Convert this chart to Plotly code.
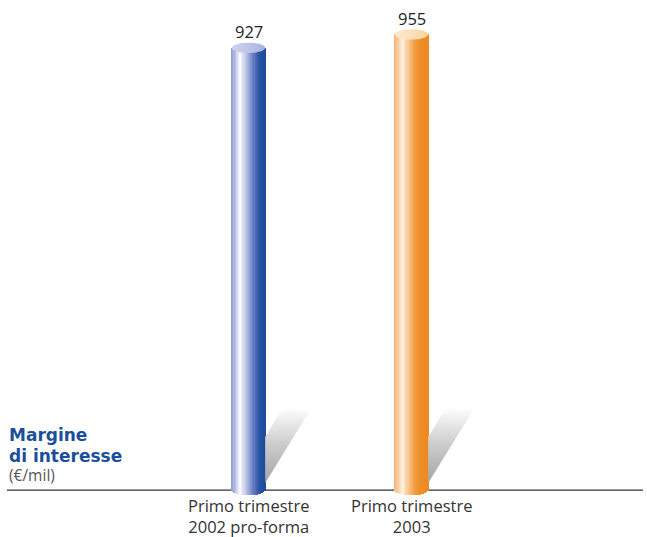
import numpy as np
import plotly.graph_objects as go

# ---- data ----
categories = ["Primo trimestre<br>2002 pro-forma", "Primo trimestre<br>2003"]
values = [927, 955]
value_labels = ["927", "955"]
positions = [0, 1]
title_lines = ["Margine", "di interesse"]
unit_label = "(€/mil)"

# ---- style ----
BAR_W = 0.205          # cylinder width in x units
CAP_H = 11             # half height of the elliptical ends (y units)
N_STRIPES = 30
X_RANGE = [-1.4816, 2.4202]
Y_RANGE = [-25, 1000]

body_stops = [
    [(0.00, "#8d97cf"), (0.10, "#b3bbe2"), (0.20, "#e4e8f6"), (0.27, "#ffffff"),
     (0.35, "#dde2f3"), (0.45, "#b6c0e4"), (0.55, "#93a2d6"), (0.64, "#6f84c6"),
     (0.73, "#4b68b5"), (0.83, "#2d56a6"), (1.00, "#1d4b9b")],
    [(0.00, "#f3b075"), (0.10, "#f8cd9c"), (0.20, "#fde6cb"), (0.27, "#fff5e8"),
     (0.35, "#fbd7aa"), (0.45, "#f8bf85"), (0.55, "#f5aa5c"), (0.64, "#f29a3f"),
     (0.73, "#ef8f2b"), (1.00, "#ec8920")],
]
cap_scales = [
    [[0, "#ccd2ee"], [0.45, "#bfc7e9"], [1, "#a7b2de"]],
    [[0, "#fee9d0"], [0.45, "#fde0bb"], [1, "#fbd1a0"]],
]


def hex_rgb(h):
    h = h.lstrip("#")
    return np.array([int(h[i:i + 2], 16) for i in (0, 2, 4)], dtype=float)


def color_at(stops, u):
    for (u0, c0), (u1, c1) in zip(stops[:-1], stops[1:]):
        if u0 <= u <= u1:
            t = (u - u0) / (u1 - u0) if u1 > u0 else 0
            c = hex_rgb(c0) * (1 - t) + hex_rgb(c1) * t
            return "rgb(%d,%d,%d)" % tuple(np.round(c))
    return stops[-1][1]


fig = go.Figure()

# shadows cast behind each cylinder (parallelogram fading upward)
for pos in positions:
    xr = pos + BAR_W / 2
    sx = [xr, xr + 0.276, xr + 0.110, xr, xr]
    sy = [14.7, 167.7, 174.0, 111.0, 14.7]
    fig.add_trace(go.Scatter(
        x=sx, y=sy, mode="lines", fill="toself", line=dict(width=0),
        fillgradient=dict(type="vertical", start=14.7, stop=174.0,
                          colorscale=[[0, "#a4a4a4"], [0.5, "#cbcbcb"], [1, "#ffffff"]]),
        hoverinfo="skip", showlegend=False))

# cylinder bodies: vertical stripes with a rounded bottom
sw = BAR_W / N_STRIPES
for k, (pos, val) in enumerate(zip(positions, values)):
    u = (np.arange(N_STRIPES) + 0.5) / N_STRIPES
    xs = pos - BAR_W / 2 + u * BAR_W
    bases = -CAP_H * np.sqrt(1 - (2 * u - 1) ** 2)
    fig.add_trace(go.Bar(
        x=xs, y=val - bases, base=bases, width=sw * 1.15,
        marker=dict(color=[color_at(body_stops[k], t) for t in u], line=dict(width=0)),
        hoverinfo="skip", showlegend=False))

# elliptical tops
theta = np.linspace(0, 2 * np.pi, 80)
for k, (pos, val) in enumerate(zip(positions, values)):
    fig.add_trace(go.Scatter(
        x=pos + BAR_W / 2 * np.cos(theta), y=val + CAP_H * np.sin(theta),
        mode="lines", fill="toself", line=dict(width=0),
        fillgradient=dict(type="horizontal", start=pos - BAR_W / 2, stop=pos + BAR_W / 2,
                          colorscale=cap_scales[k]),
        hoverinfo="skip", showlegend=False))

# baseline
fig.add_shape(type="line", xref="paper", x0=0, x1=1, yref="y", y0=0, y1=0,
              line=dict(color="#333333", width=1.3), layer="below")

annotations = []
for pos, val, lab in zip(positions, values, value_labels):
    annotations.append(dict(x=pos, y=val, xref="x", yref="y", text=lab, showarrow=False,
                            yanchor="middle", yshift=16,
                            font=dict(family="Open Sans", size=16.5, color="#222222")))
for pos, cat in zip(positions, categories):
    annotations.append(dict(x=pos, y=0, xref="x", yref="y", text=cat, showarrow=False,
                            yanchor="middle", yshift=-26.2, borderpad=0,
                            font=dict(family="Open Sans", size=16.5, color="#333333")))
for i, line in enumerate(title_lines):
    annotations.append(dict(x=0, y=0, xref="paper", yref="y", text=line, showarrow=False,
                            xanchor="left", yanchor="middle", yshift=55.4 - 21.6 * i,
                            font=dict(family="DejaVu Sans", size=17, color="#1b4f9b",
                                      weight="bold")))
annotations.append(dict(x=0, y=0, xref="paper", yref="y", text=unit_label, showarrow=False,
                        xanchor="left", yanchor="middle", yshift=14.7,
                        font=dict(family="Open Sans", size=15.5, color="#555555")))

fig.update_layout(
    width=647, height=537,
    margin=dict(l=7, r=4, t=13, b=35),
    paper_bgcolor="white", plot_bgcolor="white",
    barmode="overlay", bargap=0, showlegend=False,
    xaxis=dict(range=X_RANGE, visible=False, fixedrange=True),
    yaxis=dict(range=Y_RANGE, visible=False, fixedrange=True),
    annotations=annotations,
)

fig.write_html("out.html")
